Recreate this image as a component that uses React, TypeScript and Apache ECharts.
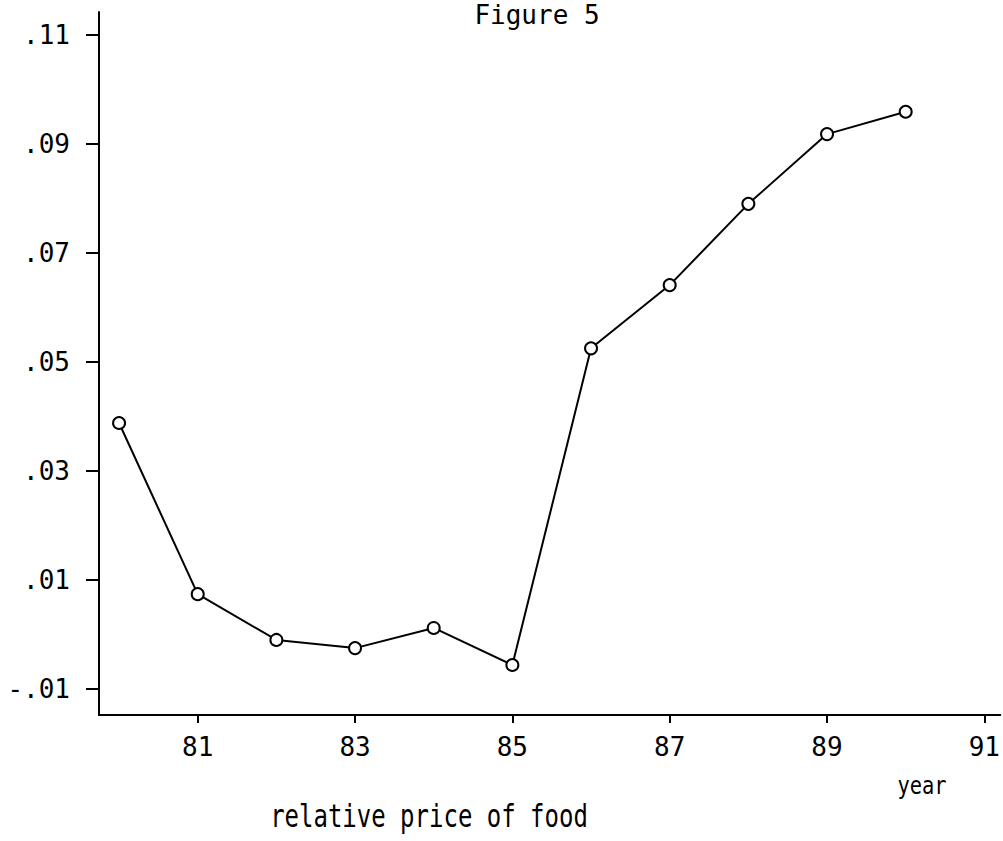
import React, { useEffect, useRef } from "react";
import * as echarts from "echarts";

const years = [80, 81, 82, 83, 84, 85, 86, 87, 88, 89, 90];
const values = [0.0388, 0.0074, -0.001, -0.0025, 0.0012, -0.0056, 0.0525, 0.0641, 0.079, 0.0918, 0.0959];
const xTicks = [81, 83, 85, 87, 89, 91];
const yTicks = [-0.01, 0.01, 0.03, 0.05, 0.07, 0.09, 0.11];
const titleText = "Figure 5";
const xName = "year";
const caption = "relative price of food";

const FONT = "'DejaVu Sans Mono', 'Liberation Mono', monospace";

function fmtY(v: number): string {
  const s = Math.abs(v).toFixed(2).replace(/^0/, "");
  return (v < 0 ? "-" : "") + s;
}

export default function App() {
  const ref = useRef<HTMLDivElement>(null);
  useEffect(() => {
    if (!ref.current) return;
    const chart = echarts.init(ref.current, null, { renderer: "svg" });
    chart.setOption({
      animation: false,
      backgroundColor: "#fff",
      grid: { left: 99, right: 0, top: 12, bottom: 126, containLabel: false },
      xAxis: {
        type: "value",
        min: 79.745,
        max: 91.203,
        splitLine: { show: false },
        axisLine: { show: true, onZero: false, lineStyle: { color: "#000", width: 2 } },
        axisTick: { show: true, inside: false, length: 8, customValues: xTicks, lineStyle: { color: "#000", width: 2 } },
        axisLabel: {
          show: true,
          customValues: xTicks,
          margin: 19,
          color: "#000",
          fontFamily: FONT,
          fontSize: 26,
          formatter: (v: number) => String(Math.round(v)),
        },
      },
      yAxis: {
        type: "value",
        min: -0.01477,
        max: 0.1142,
        splitLine: { show: false },
        axisLine: { show: true, onZero: false, lineStyle: { color: "#000", width: 2 } },
        axisTick: { show: true, inside: false, length: 13, customValues: yTicks, lineStyle: { color: "#000", width: 2 } },
        axisLabel: {
          show: true,
          customValues: yTicks,
          margin: 29,
          color: "#000",
          fontFamily: FONT,
          fontSize: 26,
          formatter: (v: number) => fmtY(v),
        },
      },
      series: [
        {
          type: "line",
          data: years.map((y, i) => [y, values[i]]),
          symbol: "emptyCircle",
          symbolSize: 12,
          showSymbol: true,
          lineStyle: { color: "#000", width: 2 },
          itemStyle: { color: "#000", borderColor: "#000", borderWidth: 2 },
        },
      ],
      graphic: [
        {
          type: "text",
          x: 537,
          y: 2,
          style: { text: titleText, fill: "#000", font: `26px ${FONT}`, align: "center", verticalAlign: "top" },
        },
        {
          type: "text",
          x: 922,
          y: 785,
          scaleX: 0.85,
          style: { text: xName, fill: "#000", font: `24px ${FONT}`, align: "center", verticalAlign: "middle" },
        },
        {
          type: "text",
          x: 429,
          y: 816,
          scaleX: 0.75,
          style: { text: caption, fill: "#000", font: `32px ${FONT}`, align: "center", verticalAlign: "middle" },
        },
      ],
    });
    return () => chart.dispose();
  }, []);
  return (
    <div
      ref={ref}
      style={{ position: "fixed", left: 0, top: 0, width: 1003, height: 841, background: "#fff" }}
    />
  );
}
